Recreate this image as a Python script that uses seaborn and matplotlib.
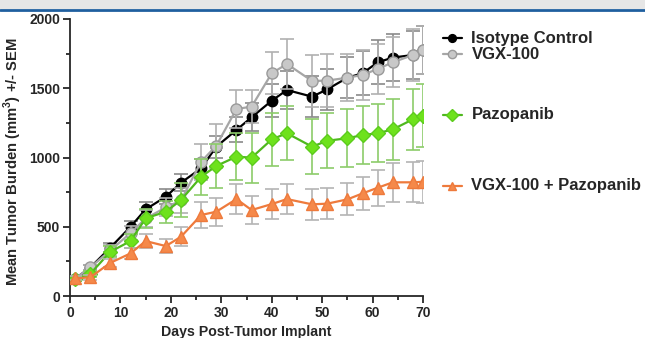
import numpy as np
import pandas as pd
import seaborn as sns
import matplotlib.pyplot as plt
from matplotlib.lines import Line2D
from matplotlib.patches import Rectangle
from matplotlib.ticker import MultipleLocator

# days of measurement
days = [1, 4, 8, 12, 15, 19, 22, 26, 29, 33, 36, 40, 43, 48, 51, 55, 58, 61, 64, 68, 70]

# mean tumor burden (mm3)
iso_mean = [125, 205, 350, 500, 626, 717, 818, 922, 1078, 1199, 1290, 1410, 1487, 1439, 1492,
            1576, 1608, 1687, 1721, 1740, 1776]
vgx_mean = [125, 207, 330, 455, 560, 640, 690, 970, 1085, 1350, 1367, 1608, 1675, 1552, 1555,
            1576, 1596, 1639, 1687, 1740, 1776]
paz_mean = [125, 160, 320, 397, 561, 609, 693, 861, 939, 1006, 999, 1131, 1175, 1078, 1121,
            1139, 1162, 1175, 1203, 1276, 1302]
combo_mean = [128, 135, 240, 308, 397, 361, 428, 585, 609, 700, 621, 664, 700, 662, 667,
              698, 741, 782, 821, 821, 825]

# SEM
iso_sem = [15, 20, 35, 45, 50, 55, 60, 70, 80, 90, 100, 120, 140, 150, 150, 150, 160, 160, 170, 170, 170]
vgx_sem = [15, 20, 40, 50, 60, 65, 90, 130, 160, 140, 120, 150, 180, 190, 190, 170, 180, 180, 180, 190, 175]
paz_sem = [15, 20, 40, 50, 70, 80, 120, 130, 160, 170, 180, 190, 195, 200, 200, 210, 210, 210, 220, 220, 225]
combo_sem = [15, 20, 30, 40, 50, 50, 70, 95, 100, 108, 100, 110, 110, 110, 110, 115, 120, 130, 140, 145, 150]

groups = ["Isotype Control", "VGX-100", "Pazopanib", "VGX-100 + Pazopanib"]
means = [iso_mean, vgx_mean, paz_mean, combo_mean]
sems = [iso_sem, vgx_sem, paz_sem, combo_sem]

line_col = ["#000000", "#a6a6a6", "#4fb81e", "#ee7a3c"]
face_col = ["#000000", "#c8c8c8", "#6ee21c", "#f5894a"]
edge_col = ["#000000", "#9a9a9a", "#5ccc1c", "#ee7a3c"]
err_col = ["#8a8a8a", "#b0b0b0", "#8ccc6a", "#b4b4b4"]
markers = ["o", "o", "D", "^"]
msizes = [7.5, 8, 7.5, 8.5]
legend_y = [0.887, 0.840, 0.660, 0.450]

df = pd.DataFrame({
    "day": days * 4,
    "mean": sum(means, []),
    "sem": sum(sems, []),
    "group": np.repeat(groups, len(days)),
})

sns.set_style("ticks")
plt.rcParams["font.family"] = ["Liberation Sans", "DejaVu Sans"]
plt.rcParams["font.weight"] = "bold"
plt.rcParams["mathtext.fontset"] = "custom"
plt.rcParams["mathtext.bf"] = "Liberation Sans:bold"
plt.rcParams["mathtext.rm"] = "Liberation Sans:bold"

fig = plt.figure(figsize=(6.45, 3.38), dpi=100)
ax = fig.add_axes([0.1085, 0.124, 0.5475, 0.82])

# top banner
fig.patches.append(Rectangle((0, 0.972), 1, 0.028, transform=fig.transFigure,
                             facecolor="#e6e6e6", edgecolor="none", zorder=0))
fig.add_artist(Line2D([0, 1], [0.971, 0.971], transform=fig.transFigure,
                      color="#1f5f9f", lw=2))

for i, g in enumerate(groups):
    sub = df[df["group"] == g]
    ax.errorbar(sub["day"], sub["mean"], yerr=sub["sem"], fmt="none",
                ecolor=err_col[i], elinewidth=1.2, capsize=5, capthick=1.2, zorder=2 + i)
    sns.lineplot(data=sub, x="day", y="mean", ax=ax, color=line_col[i], lw=1.6,
                 marker=markers[i], markersize=msizes[i], markerfacecolor=face_col[i],
                 markeredgecolor=edge_col[i], markeredgewidth=1, zorder=3 + i)
    # legend entry
    fig.add_artist(Line2D([0.687, 0.716], [legend_y[i], legend_y[i]], transform=fig.transFigure,
                          color=line_col[i], lw=1.6))
    fig.add_artist(Line2D([0.7015], [legend_y[i]], transform=fig.transFigure,
                          marker=markers[i], markersize=msizes[i] * 0.75, color=face_col[i],
                          markeredgecolor=edge_col[i], lw=0))
    fig.text(0.731, legend_y[i], g, fontsize=12, fontweight="bold", va="center", ha="left")

ax.set_xlim(0, 70)
ax.set_ylim(0, 2000)
ax.xaxis.set_major_locator(MultipleLocator(10))
ax.xaxis.set_minor_locator(MultipleLocator(5))
ax.yaxis.set_major_locator(MultipleLocator(500))
ax.yaxis.set_minor_locator(MultipleLocator(250))
ax.tick_params(which="major", length=5, width=1.3, labelsize=10, pad=2)
ax.tick_params(which="minor", length=3, width=1.3)
for lab in ax.get_xticklabels() + ax.get_yticklabels():
    lab.set_fontweight("bold")
sns.despine(ax=ax)
ax.spines["left"].set_linewidth(1.3)
ax.spines["bottom"].set_linewidth(1.3)

ax.set_xlabel("Days Post-Tumor Implant", fontsize=10.2, fontweight="bold", labelpad=4)
ax.set_ylabel(r"Mean Tumor Burden (mm$^\mathbf{3}$) +/- SEM", fontsize=10.6, fontweight="bold")
ax.yaxis.set_label_coords(-0.13, 0.485)

fig.savefig("out.png", dpi=100)
